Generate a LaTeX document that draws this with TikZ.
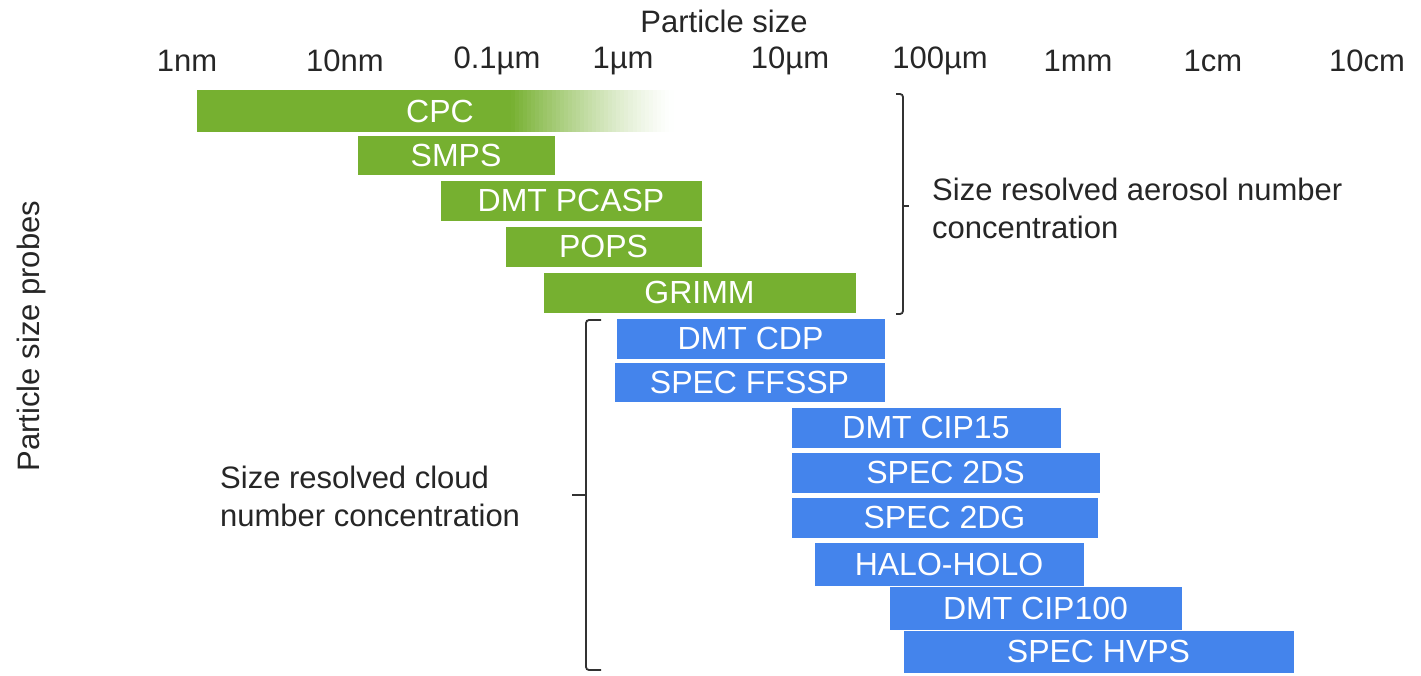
\documentclass[tikz,border=0pt]{standalone}
\usepackage{fontspec}
\setmainfont{Liberation Sans}
\definecolor{probeGreen}{RGB}{118,176,48}
\definecolor{probeBlue}{RGB}{68,132,236}
\definecolor{ink}{RGB}{38,38,38}
\definecolor{brk}{RGB}{50,50,50}
\tikzset{
  probebar/.style={rectangle, inner sep=0pt, text=white, font=\fontsize{32}{36}\selectfont, draw=white, line width=0.6pt},
  aerosolbar/.style={probebar, fill=probeGreen},
  cloudbar/.style={probebar, fill=probeBlue},
  scalelabel/.style={text=ink, font=\fontsize{31}{36}\selectfont, inner sep=0pt},
  sidelabel/.style={text=ink, font=\fontsize{31}{38}\selectfont, align=left, inner sep=0pt},
  bracketline/.style={draw=brk, line width=1.8pt, rounded corners=3pt}
}
% \probebox{name}{style}{left}{top}{right}{bottom}{text}
\newcommand{\probebox}[7]{%
  \node[#2, minimum width={#5pt-#3pt}, minimum height={#6pt-#4pt}] (#1) at ({(#3+#5)/2},{(#4+#6)/2}) {#7};}
\begin{document}
\begin{tikzpicture}[x=1pt,y=-1pt]
\useasboundingbox (0,0) rectangle (1421,675);
% axis title and scale
\node[scalelabel] (ttl) at (724,21) {Particle size};
\node[scalelabel] (s1) at (187,61) {1nm};
\node[scalelabel] (s2) at (345,61) {10nm};
\node[scalelabel] (s3) at (497,61) {0.1µm};
\node[scalelabel] (s4) at (623,61) {1µm};
\node[scalelabel] (s5) at (790,61) {10µm};
\node[scalelabel] (s6) at (940,61) {100µm};
\node[scalelabel] (s7) at (1078,61) {1mm};
\node[scalelabel] (s8) at (1213,61) {1cm};
\node[scalelabel] (s9) at (1367,61) {10cm};
\node[scalelabel, rotate=90] (ylab) at (31,336) {Particle size probes};
% CPC with fading end
\fill[probeGreen] (197,90) rectangle (512,132);
\foreach \i in {0,...,39} {
  \pgfmathsetmacro{\xa}{511+\i*4.05}
  \pgfmathsetmacro{\xb}{\xa+4.6}
  \pgfmathsetmacro{\pc}{100*(1-(\i+0.5)/40)^1.3}
  \fill[probeGreen!\pc!white] (\xa,90) rectangle (\xb,132);
}
\node[probebar, draw=none] (cpc) at (440,111) {CPC};
% aerosol probes
\probebox{smps}{aerosolbar}{357}{135}{555}{175}{SMPS}
\probebox{pcasp}{aerosolbar}{440}{180}{702}{221}{DMT PCASP}
\probebox{pops}{aerosolbar}{505}{226}{702}{267}{POPS}
\probebox{grimm}{aerosolbar}{543}{272}{856}{313}{GRIMM}
% cloud probes
\probebox{cdp}{cloudbar}{616}{318}{885}{359}{DMT CDP}
\probebox{ffssp}{cloudbar}{614}{362}{885}{402}{SPEC FFSSP}
\probebox{cip15}{cloudbar}{791}{407}{1061}{448}{DMT CIP15}
\probebox{twods}{cloudbar}{791}{452}{1100}{493}{SPEC 2DS}
\probebox{twodg}{cloudbar}{791}{497}{1098}{538}{SPEC 2DG}
\probebox{halo}{cloudbar}{814}{542}{1084}{586}{HALO-HOLO}
\probebox{cip100}{cloudbar}{889}{586}{1182}{630}{DMT CIP100}
\probebox{hvps}{cloudbar}{903}{630}{1294}{673}{SPEC HVPS}
% brackets
\draw[bracketline] (896,94) -- (903,94) -- (903,314) -- (896,314);
\draw[bracketline, rounded corners=0pt] (903,206) -- (909,206);
\draw[bracketline] (601,320) -- (586,320) -- (586,670) -- (601,670);
\draw[bracketline, rounded corners=0pt] (586,495) -- (572,495);
% group labels
\node[sidelabel, anchor=west] (aer) at (932,208) {Size resolved aerosol number\\concentration};
\node[sidelabel, anchor=west] (cld) at (220,496) {Size resolved cloud\\number concentration};
\end{tikzpicture}
\end{document}
